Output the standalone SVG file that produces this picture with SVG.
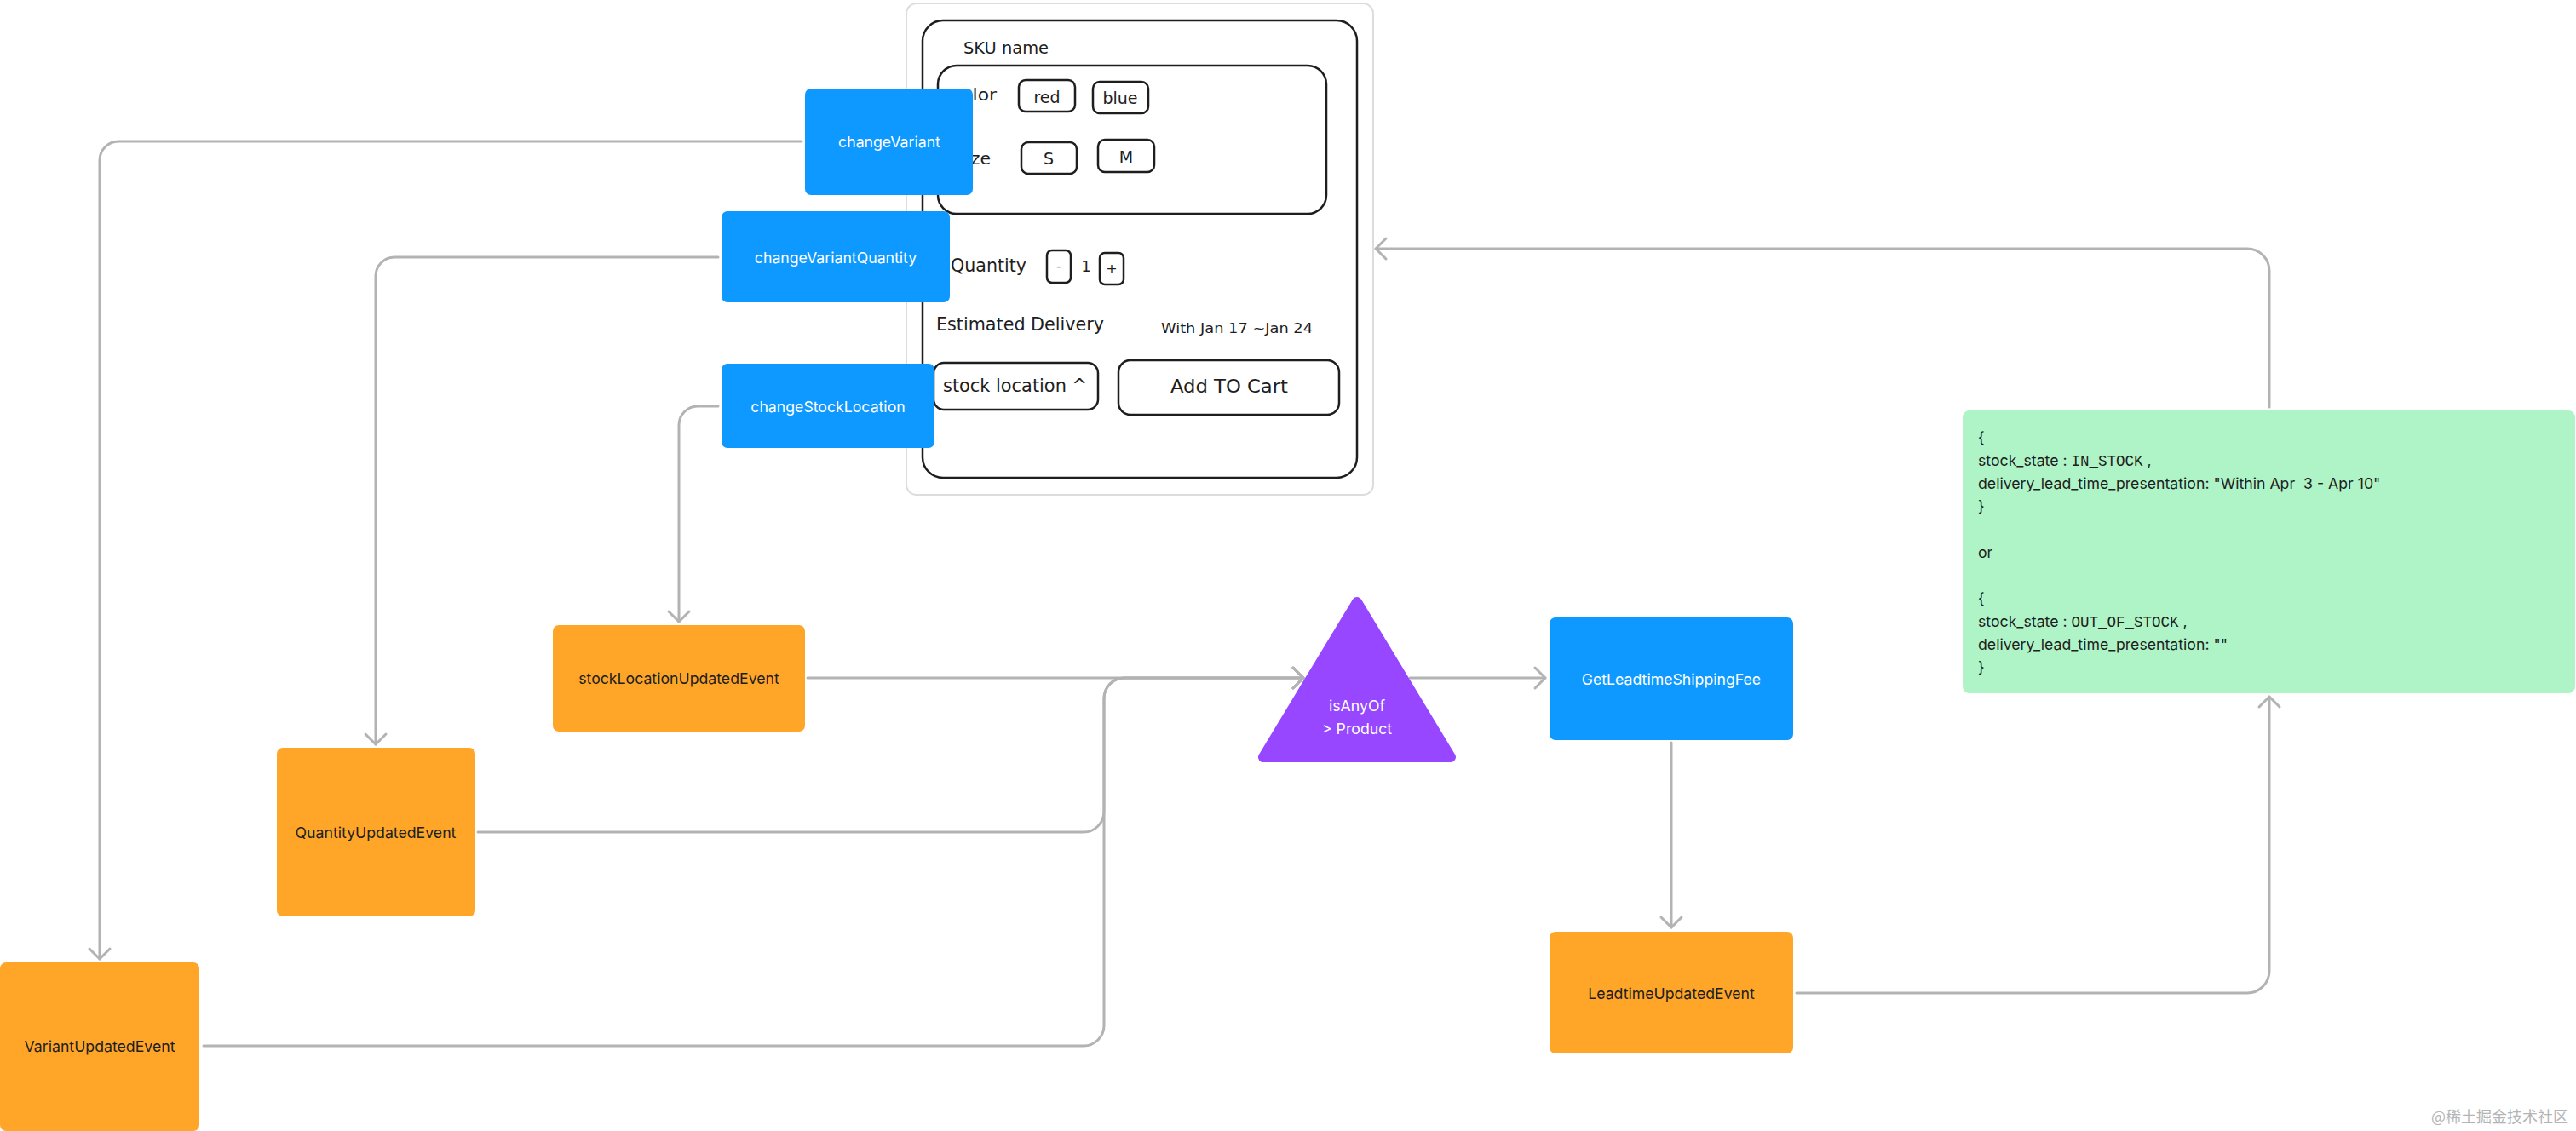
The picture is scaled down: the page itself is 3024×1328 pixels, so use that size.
<svg xmlns="http://www.w3.org/2000/svg" width="3024" height="1328" viewBox="0 0 3024 1328">
<style>
.blue{fill:#0D99FF}
.orange{fill:#FFA629}
.lbl{font-family:Inter,"Liberation Sans",sans-serif;font-size:17.7px;text-anchor:middle}
.w{fill:#FFFFFF}
.d{fill:#1E1E1E}
.conn{fill:none;stroke:#B3B3B3;stroke-width:3;stroke-linecap:round;marker-end:url(#arr)}
.sk{fill:none;stroke:#1E1E1E;stroke-width:2.5}
.hand{font-family:"DejaVu Sans","Liberation Sans",sans-serif;fill:#1E1E1E}
.code{font-family:Inter,"Liberation Sans",sans-serif;font-size:17.7px;fill:#1E1E1E;white-space:pre}
.mono{font-family:"Liberation Mono","DejaVu Sans Mono",monospace;font-size:17.5px}
</style>
<defs>
<marker id="arr" viewBox="-15 -15 17 30" markerWidth="17" markerHeight="30" refX="0" refY="0" orient="auto" markerUnits="userSpaceOnUse" overflow="visible">
<path d="M-12,-12 L0,0 L-12,12" fill="none" stroke="#B3B3B3" stroke-width="3" stroke-linecap="round" stroke-linejoin="round"/>
</marker>
</defs>
<rect width="3024" height="1328" fill="#FFFFFF"/>

<g id="mockup">
<rect x="1064" y="4" width="548" height="577" rx="12" fill="#FFFFFF" stroke="#DCDCDC" stroke-width="2"/>
<rect class="sk" x="1083" y="24" width="510" height="537" rx="24"/>
<text class="hand" x="1131" y="63" font-size="20" textLength="100" lengthAdjust="spacingAndGlyphs">SKU name</text>
<rect class="sk" x="1101" y="77" width="456" height="174" rx="22"/>
<text class="hand" x="1113" y="118" font-size="20" textLength="57" lengthAdjust="spacingAndGlyphs">Color</text>
<rect class="sk" x="1196" y="94" width="66" height="37" rx="8"/>
<text class="hand" x="1229" y="121" font-size="19" text-anchor="middle">red</text>
<rect class="sk" x="1283" y="96" width="65" height="37" rx="8"/>
<text class="hand" x="1315" y="122" font-size="19" text-anchor="middle">blue</text>
<text class="hand" x="1121" y="193" font-size="20" textLength="42" lengthAdjust="spacingAndGlyphs">Size</text>
<rect class="sk" x="1199" y="167" width="65" height="37" rx="8"/>
<text class="hand" x="1231" y="193" font-size="19" text-anchor="middle">S</text>
<rect class="sk" x="1289" y="164" width="66" height="38" rx="8"/>
<text class="hand" x="1322" y="191" font-size="19" text-anchor="middle">M</text>
<text class="hand" x="1116" y="319" font-size="21" textLength="89" lengthAdjust="spacingAndGlyphs">Quantity</text>
<rect class="sk" x="1229" y="294" width="28" height="38" rx="6"/>
<text class="hand" x="1243" y="318" font-size="16" text-anchor="middle">-</text>
<text class="hand" x="1275" y="319" font-size="18" text-anchor="middle">1</text>
<rect class="sk" x="1291" y="297" width="28" height="37" rx="6"/>
<text class="hand" x="1305" y="321" font-size="16" text-anchor="middle">+</text>
<text class="hand" x="1099" y="388" font-size="21" textLength="197" lengthAdjust="spacingAndGlyphs">Estimated Delivery</text>
<text class="hand" x="1363" y="391" font-size="16" textLength="178" lengthAdjust="spacingAndGlyphs">With Jan 17 ~Jan 24</text>
<rect class="sk" x="1096" y="426" width="193" height="55" rx="12"/>
<text class="hand" x="1107" y="460" font-size="21" textLength="169" lengthAdjust="spacingAndGlyphs">stock location ^</text>
<rect class="sk" x="1313" y="423" width="259" height="64" rx="14"/>
<text class="hand" x="1374" y="461" font-size="22" textLength="138" lengthAdjust="spacingAndGlyphs">Add TO Cart</text>
</g>

<g id="connectors">
<path class="conn" d="M941,166 H139 A22,22 0 0 0 117,188 V1126"/>
<path class="conn" d="M843,302 H463 A22,22 0 0 0 441,324 V874"/>
<path class="conn" d="M843,477 H819 A22,22 0 0 0 797,499 V730"/>
<path class="conn" d="M948,796 H1530"/>
<path class="conn" d="M561,977 H1272 A24,24 0 0 0 1296,953 V820 A24,24 0 0 1 1320,796 H1530"/>
<path class="conn" d="M239,1228 H1272 A24,24 0 0 0 1296,1204 V820 A24,24 0 0 1 1320,796 H1530"/>
<path class="conn" d="M1655,796 H1814"/>
<path class="conn" d="M1962,872 V1089"/>
<path class="conn" d="M2109,1166 H2638 A26,26 0 0 0 2664,1140 V818"/>
<path class="conn" d="M2664,478 V318 A26,26 0 0 0 2638,292 H1615"/>
</g>

<g id="changeVariant">
<rect class="blue" x="945" y="104" width="197" height="125" rx="7"/>
<text class="lbl w" x="1044" y="173">changeVariant</text>
</g>
<g id="changeVariantQuantity">
<rect class="blue" x="847" y="248" width="268" height="107" rx="7"/>
<text class="lbl w" x="981" y="309">changeVariantQuantity</text>
</g>
<g id="changeStockLocation">
<rect class="blue" x="847" y="427" width="250" height="99" rx="7"/>
<text class="lbl w" x="972" y="484">changeStockLocation</text>
</g>
<g id="stockLocationUpdatedEvent">
<rect class="orange" x="649" y="734" width="296" height="125" rx="7"/>
<text class="lbl d" x="797" y="803">stockLocationUpdatedEvent</text>
</g>
<g id="QuantityUpdatedEvent">
<rect class="orange" x="325" y="878" width="233" height="198" rx="7"/>
<text class="lbl d" x="441" y="984">QuantityUpdatedEvent</text>
</g>
<g id="VariantUpdatedEvent">
<rect class="orange" x="0" y="1130" width="234" height="198" rx="7"/>
<text class="lbl d" x="117" y="1235">VariantUpdatedEvent</text>
</g>
<g id="isAnyOf">
<polygon points="1593,707 1483,889 1703,889" fill="#9747FF" stroke="#9747FF" stroke-width="12" stroke-linejoin="round"/>
<text class="lbl w" x="1593" y="835">isAnyOf</text>
<text class="lbl w" x="1593" y="862">&gt; Product</text>
</g>
<g id="GetLeadtimeShippingFee">
<rect class="blue" x="1819" y="725" width="286" height="144" rx="7"/>
<text class="lbl w" x="1962" y="804">GetLeadtimeShippingFee</text>
</g>
<g id="LeadtimeUpdatedEvent">
<rect class="orange" x="1819" y="1094" width="286" height="143" rx="7"/>
<text class="lbl d" x="1962" y="1173">LeadtimeUpdatedEvent</text>
</g>
<g id="result">
<rect x="2304" y="482" width="719" height="332" rx="8" fill="#AFF4C6"/>
<text class="code" x="2322" y="520">{</text>
<text class="code" x="2322" y="547">stock_state : <tspan class="mono">IN_STOCK</tspan> ,</text>
<text class="code" x="2322" y="574" xml:space="preserve">delivery_lead_time_presentation: "Within Apr  3 - Apr 10"</text>
<text class="code" x="2322" y="601">}</text>
<text class="code" x="2322" y="655">or</text>
<text class="code" x="2322" y="709">{</text>
<text class="code" x="2322" y="736">stock_state : <tspan class="mono">OUT_OF_STOCK</tspan> ,</text>
<text class="code" x="2322" y="763">delivery_lead_time_presentation: ""</text>
<text class="code" x="2322" y="790">}</text>
</g>
<text x="3015" y="1318" text-anchor="end" font-family="'Noto Sans CJK SC',sans-serif" font-size="18" fill="#B5B5B5">@稀土掘金技术社区</text>
</svg>
